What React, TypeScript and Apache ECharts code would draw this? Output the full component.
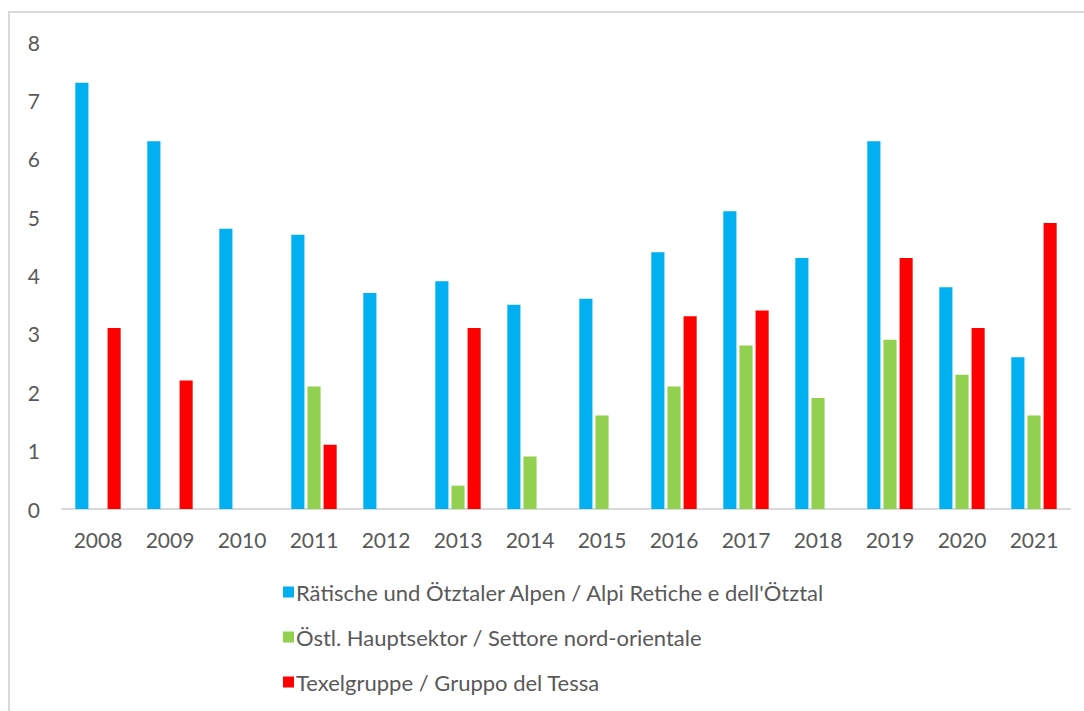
import React, { useEffect, useRef } from "react";
import * as echarts from "echarts";

const years = ["2008","2009","2010","2011","2012","2013","2014","2015","2016","2017","2018","2019","2020","2021"];
const seriesNames = [
  "Rätische und Ötztaler Alpen / Alpi Retiche e dell'Ötztal",
  "Östl. Hauptsektor / Settore nord-orientale",
  "Texelgruppe / Gruppo del Tessa",
];
const raetische = [7.3, 6.3, 4.8, 4.7, 3.7, 3.9, 3.5, 3.6, 4.4, 5.1, 4.3, 6.3, 3.8, 2.6];
const oestl = [null, null, null, 2.1, null, 0.4, 0.9, 1.6, 2.1, 2.8, 1.9, 2.9, 2.3, 1.6];
const texel = [3.1, 2.2, null, 1.1, null, 3.1, null, null, 3.3, 3.4, null, 4.3, 3.1, 4.9];
const colors = ["#00B0F0", "#92D050", "#FF0000"];

export default function App() {
  const ref = useRef<HTMLDivElement>(null);
  useEffect(() => {
    const chart = echarts.init(ref.current!, null, { renderer: "svg" });
    const font = "Lato, 'Open Sans', sans-serif";
    const data = [raetische, oestl, texel];
    chart.setOption({
      animation: false,
      backgroundColor: "#ffffff",
      textStyle: { fontFamily: font },
      graphic: [
        {
          type: "rect",
          shape: { x: 9, y: 12, width: 1100, height: 720 },
          style: { fill: "none", stroke: "#D9D9D9", lineWidth: 2 },
          silent: true,
        },
      ],
      legend: {
        orient: "vertical",
        left: 278,
        top: 576,
        itemWidth: 11,
        itemHeight: 11,
        itemGap: 23,
        icon: "rect",
        textStyle: { color: "#595959", fontSize: 22, lineHeight: 22, fontFamily: font, padding: [0, 0, 0, -3] },
        data: seriesNames,
      },
      grid: { left: 62, right: 14, top: 42, bottom: 202 },
      xAxis: {
        type: "category",
        data: years,
        axisLine: { lineStyle: { color: "#D9D9D9", width: 2 } },
        axisTick: { show: false },
        axisLabel: { color: "#595959", fontSize: 21, margin: 20, fontFamily: font },
      },
      yAxis: {
        type: "value",
        min: 0,
        max: 8,
        interval: 1,
        splitLine: { show: false },
        axisLine: { show: false },
        axisTick: { show: false },
        axisLabel: { color: "#595959", fontSize: 21, margin: 22, fontFamily: font },
      },
      series: seriesNames.map((name, i) => ({
        name,
        type: "bar",
        data: data[i],
        itemStyle: { color: colors[i] },
        barGap: "23%",
        barCategoryGap: "37%",
      })),
    });
    return () => chart.dispose();
  }, []);
  return (
    <div
      ref={ref}
      style={{ position: "absolute", left: 0, top: 0, width: 1084, height: 711 }}
    />
  );
}
